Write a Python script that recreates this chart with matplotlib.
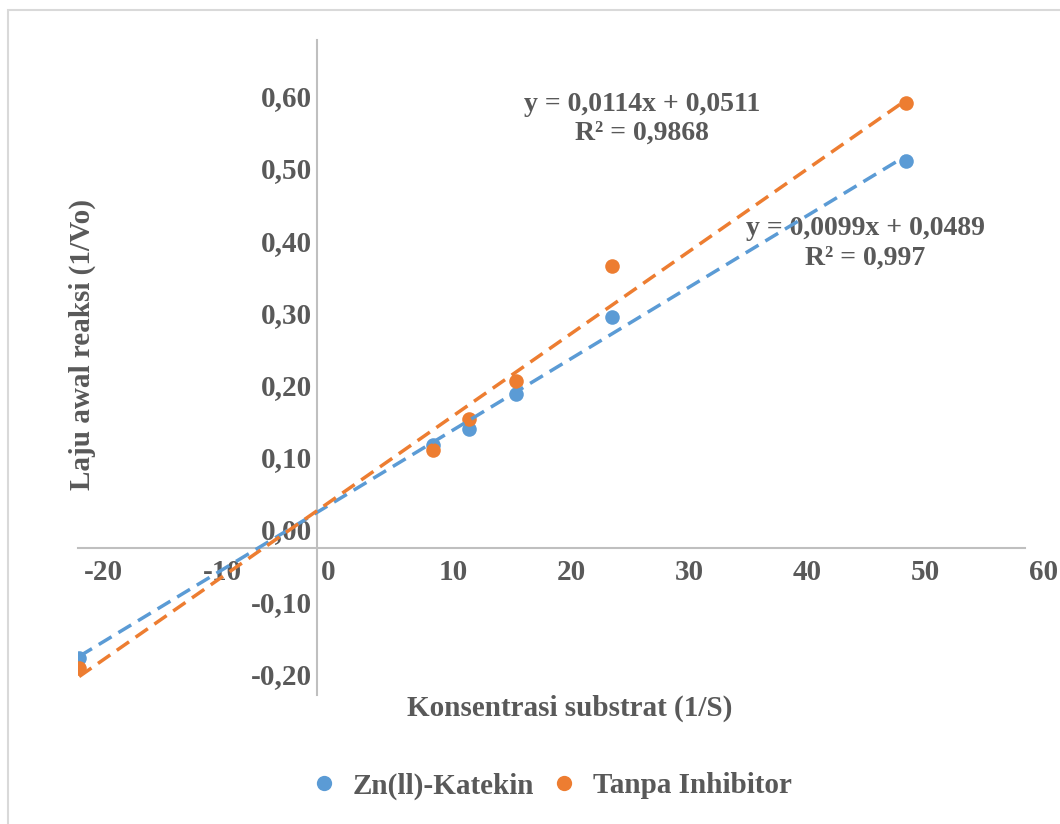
import numpy as np
import matplotlib
matplotlib.use("Agg")
import matplotlib.pyplot as plt
from matplotlib.lines import Line2D
from matplotlib.patches import Rectangle
import matplotlib.transforms as mtransforms

# data (Lineweaver-Burk plot)
x_vals = [-20.1, 9.9, 12.9, 16.9, 25.0, 49.9]
y_zn = [-0.152, 0.143, 0.165, 0.213, 0.320, 0.536]
y_tanpa = [-0.166, 0.136, 0.179, 0.231, 0.391, 0.616]

# trendline coefficients as printed on the chart
fit_zn = [0.0099, 0.0489]
r2_zn = "0,997"
fit_tanpa = [0.0114, 0.0511]
r2_tanpa = "0,9868"

series_names = ["Zn(ll)-Katekin", "Tanpa Inhibitor"]
x_ticks = [-20, -10, 0, 10, 20, 30, 40, 50, 60]
y_ticks = [-0.2, -0.1, 0.0, 0.1, 0.2, 0.3, 0.4, 0.5, 0.6]

BLUE = "#5B9BD5"
ORANGE = "#ED7D31"
TXT = "#595959"
AX = "#BFBFBF"

plt.rcParams["font.family"] = ["Liberation Serif", "DejaVu Serif"]
plt.rcParams["font.weight"] = "bold"

fig = plt.figure(figsize=(10.6, 8.24), dpi=100)
fig.patches.append(Rectangle((8 / 1060, -0.01), 1.02, 1 - 10 / 824 + 0.01,
                             transform=fig.transFigure, fill=False,
                             edgecolor="#D9D9D9", lw=1.5))

ax = fig.add_axes([78 / 1060, 1 - 695 / 824, (1025 - 78) / 1060, (695 - 40) / 824])
ax.set_xlim(-20.2, 60)
ax.set_ylim(-0.2036, 0.7036)

def fmt(v, dec):
    return f"{v:.{dec}f}".replace(".", ",")

xs = np.array([min(x_vals), max(x_vals)])
for coef, col in [(fit_zn, BLUE), (fit_tanpa, ORANGE)]:
    ax.plot(xs, coef[0] * xs + coef[1], color=col, lw=2.5, dashes=(4.3, 2.3), zorder=4)

ax.scatter(x_vals, y_zn, s=110, color=BLUE, zorder=3, linewidths=0)
ax.scatter(x_vals, y_tanpa, s=110, color=ORANGE, zorder=3, linewidths=0)

for sp in ["top", "right"]:
    ax.spines[sp].set_visible(False)
ax.spines["left"].set_position(("data", 0))
ax.spines["bottom"].set_position(("data", 0))
for sp in ["left", "bottom"]:
    ax.spines[sp].set_color(AX)
    ax.spines[sp].set_linewidth(1.5)

ax.set_xticks(x_ticks)
ax.set_xticklabels([str(t) for t in x_ticks])
ax.set_yticks(y_ticks)
ax.set_yticklabels([fmt(t, 2) for t in y_ticks])
ax.tick_params(length=0, labelsize=21, labelcolor=TXT)
ax.tick_params(axis="x", pad=8)
ax.tick_params(axis="y", pad=3)

off_x = mtransforms.ScaledTranslation(0.04, 0.0, fig.dpi_scale_trans)
for lab in ax.get_xticklabels():
    lab.set_horizontalalignment("left")
    lab.set_transform(lab.get_transform() + off_x)
off_y = mtransforms.ScaledTranslation(0, 0.19, fig.dpi_scale_trans)
for lab in ax.get_yticklabels():
    lab.set_transform(lab.get_transform() + off_y)

# trendline equations
ax.text(27.6, 0.595, f"y = {fmt(fit_tanpa[0], 4)}x + {fmt(fit_tanpa[1], 4)}\nR² = {r2_tanpa}",
        ha="center", va="center", fontsize=20, color=TXT, linespacing=1.2, zorder=2)
ax.text(46.5, 0.422, f"y = {fmt(fit_zn[0], 4)}x + {fmt(fit_zn[1], 4)}\nR² = {r2_zn}",
        ha="center", va="center", fontsize=20, color=TXT, linespacing=1.2, zorder=2)

fig.text(570 / 1060, 1 - 708 / 824, "Konsentrasi substrat (1/S)", ha="center", va="center",
         fontsize=21, color=TXT)
fig.text(82 / 1060, 1 - 345 / 824, "Laju awal reaksi (1/Vo)", ha="center", va="center",
         rotation=90, fontsize=21, color=TXT)

handles = [Line2D([], [], ls="none", marker="o", ms=11, color=BLUE, markeredgewidth=0),
           Line2D([], [], ls="none", marker="o", ms=11, color=ORANGE, markeredgewidth=0)]
leg = fig.legend(handles, series_names, loc="center", bbox_to_anchor=(552 / 1060, 1 - 786 / 824),
                 ncol=2, frameon=False, fontsize=21, handlelength=0.8, handletextpad=0.6,
                 columnspacing=0.6)
for t in leg.get_texts():
    t.set_color(TXT)

fig.savefig("out.png", dpi=100)
